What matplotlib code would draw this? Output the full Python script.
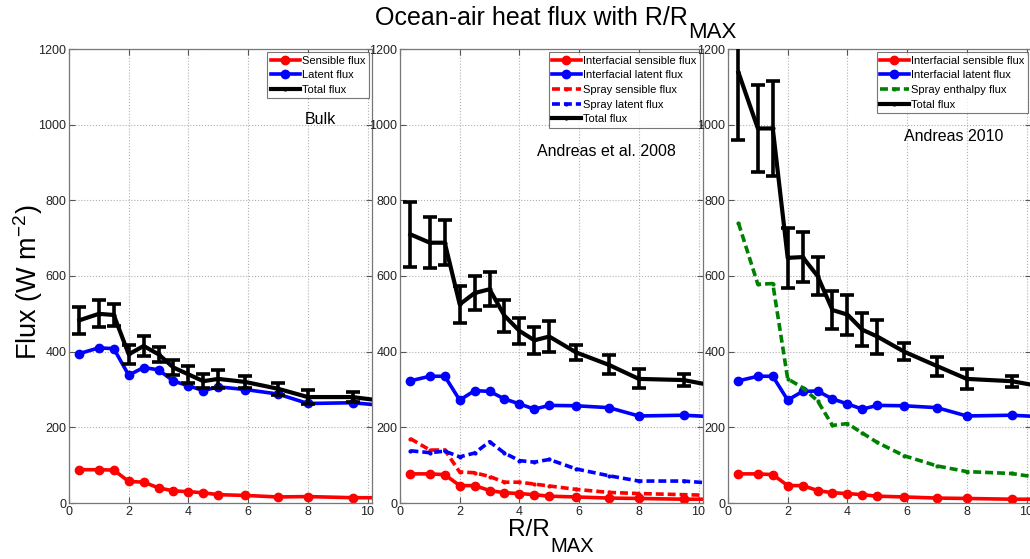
import matplotlib
matplotlib.use("Agg")
import matplotlib.pyplot as plt
import numpy as np

plt.rcParams['font.family'] = ['Liberation Sans', 'DejaVu Sans']
plt.rcParams['mathtext.default'] = 'regular'

# ---------------- data ----------------
r = [0.35, 1.0, 1.5, 2.0, 2.5, 3.0, 3.5, 4.0, 4.5, 5.0, 5.9, 7.0, 8.0, 9.5, 10.5]

# Panel 1: Bulk
bulk_sensible = [88, 88, 87, 57, 55, 40, 32, 30, 27, 22, 20, 16, 17, 14, 14]
bulk_latent = [395, 410, 408, 338, 358, 352, 322, 310, 297, 307, 300, 288, 263, 265, 258]
bulk_total = [483, 500, 497, 393, 415, 393, 358, 340, 322, 328, 320, 302, 280, 280, 270]
bulk_err = [35, 36, 30, 25, 27, 20, 20, 22, 18, 23, 15, 16, 18, 13, 0]

# Panel 2: Andreas et al. 2008
a08_int_sensible = [77, 77, 75, 46, 46, 33, 27, 25, 22, 18, 16, 13, 12, 10, 10]
a08_int_latent = [323, 335, 335, 272, 297, 295, 275, 262, 248, 258, 257, 252, 230, 232, 228]
a08_spray_sensible = [170, 140, 140, 82, 80, 70, 55, 55, 50, 45, 36, 28, 25, 22, 20]
a08_spray_latent = [138, 133, 137, 122, 132, 162, 132, 112, 108, 115, 90, 72, 58, 58, 52]
a08_total = [710, 688, 688, 525, 555, 565, 495, 455, 430, 440, 398, 365, 328, 325, 310]
a08_err = [85, 68, 60, 48, 45, 45, 42, 35, 35, 40, 20, 25, 25, 15, 0]

# Panel 3: Andreas 2010
a10_int_sensible = [77, 77, 75, 46, 46, 33, 27, 25, 22, 18, 16, 13, 12, 10, 10]
a10_int_latent = [323, 335, 335, 272, 295, 296, 275, 262, 248, 258, 257, 252, 230, 232, 228]
a10_spray_enthalpy = [740, 578, 580, 328, 305, 270, 205, 210, 185, 160, 125, 98, 83, 78, 66]
a10_total = [1138, 990, 990, 648, 650, 600, 510, 498, 458, 440, 400, 362, 328, 322, 308]
a10_err = [178, 115, 125, 80, 65, 50, 50, 53, 43, 45, 22, 25, 27, 15, 0]

xticks = [0, 2, 4, 6, 8, 10]
yticks = [0, 200, 400, 600, 800, 1000, 1200]

# ---------------- figure ----------------
fig = plt.figure(figsize=(10.30, 5.59), dpi=100)
W, H = 1030, 559
bottom = 1 - 503 / H
height = (503 - 49) / H
lefts = [69 / W, 400 / W, 728 / W]
width = 303 / W
axes = [fig.add_axes([l, bottom, width, height]) for l in lefts]

LW = 2.6
MS = 6
DASH = (2.2, 1.1)

def style(ax):
    ax.set_xlim(0, 10.15)
    ax.set_ylim(0, 1200)
    ax.set_xticks(xticks)
    ax.set_yticks(yticks)
    ax.grid(True, linestyle=':', color='#b0b0b0', linewidth=0.8)
    ax.tick_params(direction='in', length=4, width=0.8, top=True, right=True,
                   labelsize=9, colors='#555555', labelcolor='#222222', pad=2)
    for s in ax.spines.values():
        s.set_color('#777777')
        s.set_linewidth(0.9)
    ax.set_axisbelow(True)

def total(ax, y, e, label='Total flux'):
    ax.errorbar(r[:-1], y[:-1], yerr=e[:-1], color='black', lw=0, elinewidth=2.6,
                capsize=5, capthick=2.6, zorder=4)
    ax.plot(r, y, color='black', lw=LW + 0.4, marker='.', ms=4, label=label, zorder=5)

# Panel 1
ax = axes[0]
style(ax)
ax.plot(r, bulk_sensible, color='red', lw=LW, marker='o', ms=MS, label='Sensible flux')
ax.plot(r, bulk_latent, color='blue', lw=LW, marker='o', ms=MS, label='Latent flux')
total(ax, bulk_total, bulk_err)
ax.text(320 / W, 1 - 119 / H, 'Bulk', transform=fig.transFigure, ha='center', va='center', fontsize=11.5)

# Panel 2
ax = axes[1]
style(ax)
ax.plot(r, a08_int_sensible, color='red', lw=LW, marker='o', ms=MS, label='Interfacial sensible flux')
ax.plot(r, a08_int_latent, color='blue', lw=LW, marker='o', ms=MS, label='Interfacial latent flux')
ax.plot(r, a08_spray_sensible, color='red', lw=LW, dashes=DASH, marker='.', ms=4, label='Spray sensible flux')
ax.plot(r, a08_spray_latent, color='blue', lw=LW, dashes=DASH, marker='.', ms=4, label='Spray latent flux')
total(ax, a08_total, a08_err)
ax.text(606 / W, 1 - 151 / H, 'Andreas et al. 2008', transform=fig.transFigure, ha='center', va='center', fontsize=11.5)

# Panel 3
ax = axes[2]
style(ax)
ax.plot(r, a10_int_sensible, color='red', lw=LW, marker='o', ms=MS, label='Interfacial sensible flux')
ax.plot(r, a10_int_latent, color='blue', lw=LW, marker='o', ms=MS, label='Interfacial latent flux')
ax.plot(r, a10_spray_enthalpy, color='#008000', lw=LW, dashes=DASH, marker='.', ms=4, label='Spray enthalpy flux')
total(ax, a10_total, a10_err)
ax.text(954 / W, 1 - 137 / H, 'Andreas 2010', transform=fig.transFigure, ha='center', va='center', fontsize=11.5)

for ax in axes:
    leg = ax.legend(loc='upper right', fontsize=8, frameon=True, fancybox=False,
                    borderpad=0.3, labelspacing=0.42, handlelength=2.6, handletextpad=0.2,
                    borderaxespad=0.3)
    leg.get_frame().set_edgecolor('#555555')
    leg.get_frame().set_linewidth(0.8)

# y label
fig.text(28 / W, 1 - 282 / H, 'Flux (W m$^{-2}$)', rotation=90, ha='center', va='center', fontsize=19.5)

# x label (large subscript, as in the original)
fig.text(550 / W, 1 - 530 / H, 'R/R', ha='right', va='center', fontsize=17.5)
fig.text(550 / W, 1 - 546 / H, 'MAX', ha='left', va='center', fontsize=14.5)

# title
fig.text(688 / W, 1 - 18 / H, 'Ocean-air heat flux with R/R', ha='right', va='center', fontsize=18)
fig.text(688 / W, 1 - 33 / H, 'MAX', ha='left', va='center', fontsize=16)

fig.savefig('out.png', dpi=100)
